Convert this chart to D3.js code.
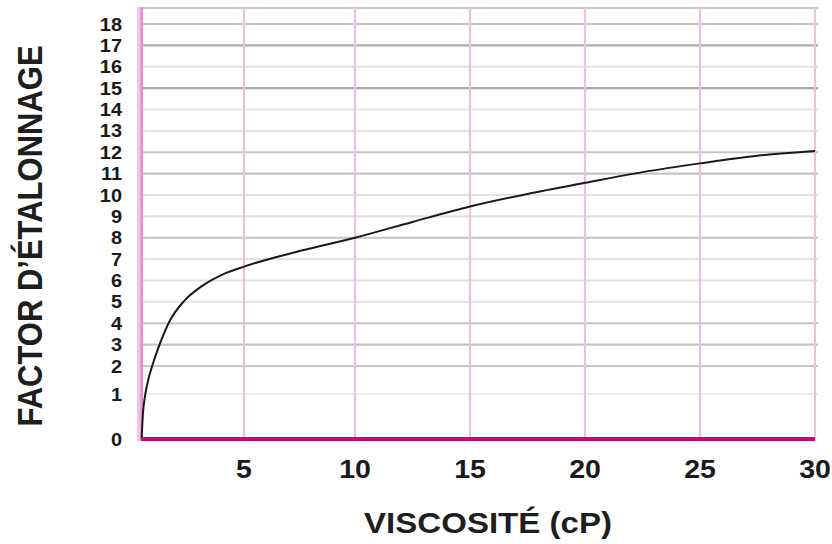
<!DOCTYPE html>
<html><head><meta charset="utf-8">
<script src="https://cdn.jsdelivr.net/npm/d3@7"></script>
<style>body{margin:0;background:#fff}svg{display:block}</style>
</head><body>
<svg id="c" width="832" height="544"></svg>
<script>
// ---- data ----
const viscosity = [0.03,0.1,0.19,0.35,0.55,0.9,1.4,2.1,2.9,4.0,5,7.5,10,12.5,15,17.5,20,22.5,25,27.5,30];
const factor    = [0,0.6,0.94,1.5,2.02,3.0,4.12,5.05,5.7,6.3,6.65,7.38,8.0,8.74,9.46,10.05,10.57,11.07,11.48,11.84,12.06];
const xTicks = [5,10,15,20,25,30];
const yTicks = [0,1,2,3,4,5,6,7,8,9,10,11,12,13,14,15,16,17,18];
const xTitle = "VISCOSITÉ (cP)";
const yTitle = "FACTOR D’ÉTALONNAGE";

// ---- styles ----
const gridShade = {18:"#c4c4c4",17:"#a9a9a9",16:"#e2e2e2",15:"#a9a9a9",14:"#e6e6e6",13:"#e6e6e6",12:"#c4c4c4",11:"#c4c4c4",10:"#e2e2e2",9:"#e2e2e2",8:"#c4c4c4",7:"#e2e2e2",6:"#e2e2e2",5:"#e6e6e6",4:"#c4c4c4",3:"#c4c4c4",2:"#c8c8c8",1:"#ececec",0:"none"};
const FONT = "'Liberation Sans', Arial, Helvetica, sans-serif";
const STRETCH = 1.14;

(function(){
const svg = d3.select("#c");
svg.append("rect").attr("width",832).attr("height",544).attr("fill","#fff");

const x = d3.scaleLinear().domain([0,5,10,30]).range([141,244,355,815]);
const y = d3.scaleLinear().domain([0,1,2,18]).range([439,394,366,24]);
const pLeft = x(0), pRight = x(30), pBottom = y(0), pTop = 8;

// horizontal grid
svg.append("line").attr("x1",pLeft+2).attr("x2",pRight+3).attr("y1",pTop).attr("y2",pTop)
  .attr("stroke","#c8c8c8").attr("stroke-width",2);
svg.append("g").selectAll("line").data(yTicks.filter(d=>d>0)).join("line")
  .attr("x1",pLeft+2).attr("x2",pRight+3)
  .attr("y1",d=>y(d)).attr("y2",d=>y(d))
  .attr("stroke",d=>gridShade[d]).attr("stroke-width",2.2);

// vertical grid
svg.append("g").selectAll("line").data(xTicks).join("line")
  .attr("x1",d=>x(d)).attr("x2",d=>x(d))
  .attr("y1",pTop).attr("y2",pBottom)
  .attr("stroke","#eebfdf").attr("stroke-width",2.2);

// left axis band
svg.append("rect").attr("x",pLeft-4).attr("y",pTop-1).attr("width",6).attr("height",pBottom-pTop+3).attr("fill","#f1c3e3");
svg.append("rect").attr("x",pLeft-0.5).attr("y",pTop-1).attr("width",2.5).attr("height",pBottom-pTop+3).attr("fill","#e290cb");

// curve
const line = d3.line().x((d,i)=>x(viscosity[i])).y(d=>y(d)).curve(d3.curveMonotoneX);
svg.append("path").attr("d",line(factor)).attr("fill","none")
  .attr("stroke","#1a1a1a").attr("stroke-width",2);

// bottom axis
svg.append("line").attr("x1",pLeft).attr("x2",pRight).attr("y1",pBottom).attr("y2",pBottom)
  .attr("stroke","#bf0a7f").attr("stroke-width",4);

// y tick labels
svg.append("g").selectAll("g").data(yTicks).join("g")
  .attr("transform",d=>`translate(122,${y(d)+6.5}) scale(${STRETCH},1)`)
  .append("text").attr("text-anchor","end")
  .attr("font-family",FONT).attr("font-weight","bold").attr("font-size",17.5).attr("fill","#1a1a1a")
  .text(d=>d);

// x tick labels
svg.append("g").selectAll("g").data(xTicks).join("g")
  .attr("transform",d=>`translate(${x(d)},478) scale(${STRETCH},1)`)
  .append("text").attr("text-anchor","middle")
  .attr("font-family",FONT).attr("font-weight","bold").attr("font-size",25).attr("fill","#1a1a1a")
  .text(d=>d);

// titles
svg.append("g").attr("transform",`translate(488,533) scale(${STRETCH},1)`)
  .append("text").attr("text-anchor","middle")
  .attr("font-family",FONT).attr("font-weight","bold").attr("font-size",29).attr("fill","#1e1e1e")
  .text(xTitle);
svg.append("g").attr("transform",`translate(42,236) scale(${STRETCH},1) rotate(-90)`)
  .append("text").attr("text-anchor","middle")
  .attr("font-family",FONT).attr("font-weight","bold").attr("font-size",31).attr("fill","#1e1e1e")
  .text(yTitle);
})();
</script>
</body></html>
